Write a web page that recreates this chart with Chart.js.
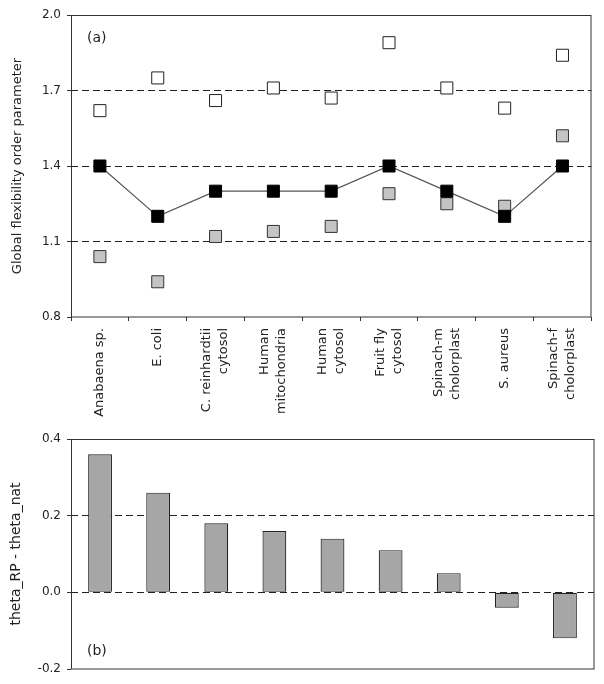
<!DOCTYPE html>
<html lang="en">
<head>
<meta charset="utf-8">
<title>Global flexibility order parameter</title>
<script src="https://cdn.jsdelivr.net/npm/chart.js@4"></script>
<style>
    body { margin: 0; background: #fff; }
    canvas { display: block; }
</style>
</head>
<body>

<canvas id="orderChart" width="604" height="430"></canvas>
<canvas id="diffChart" width="604" height="254"></canvas>

<script>
    // categories, one array of text lines per organism
    const species = [
        ['Anabaena sp.'],
        ['E. coli'],
        ['C. reinhardtii', 'cytosol'],
        ['Human', 'mitochondria'],
        ['Human', 'cytosol'],
        ['Fruit fly', 'cytosol'],
        ['Spinach-m', 'cholorplast'],
        ['S. aureus'],
        ['Spinach-f', 'cholorplast']
    ];

    // panel (a)
    const thetaNat   = [1.40, 1.20, 1.30, 1.30, 1.30, 1.40, 1.30, 1.20, 1.40];
    const thetaUpper = [1.62, 1.75, 1.66, 1.71, 1.67, 1.89, 1.71, 1.63, 1.84];
    const thetaLower = [1.04, 0.94, 1.12, 1.14, 1.16, 1.29, 1.25, 1.24, 1.52];
    const orderTicks = [0.8, 1.1, 1.4, 1.7, 2.0];

    // panel (b)
    const thetaDiff = [0.36, 0.26, 0.18, 0.16, 0.14, 0.11, 0.05, -0.04, -0.12];
    const diffTicks = [-0.2, 0.0, 0.2, 0.4];

    const FONT = 'DejaVu Sans, Verdana, sans-serif';
    const INK = '#222';

    // box round the plot area plus the (a)/(b) tag
    const framePlugin = {
        id: 'frame',
        beforeDatasetsDraw(chart) {
            const { ctx, chartArea: a } = chart;
            ctx.save();
            ctx.strokeStyle = '#333';
            ctx.lineWidth = 1;
            const l = Math.round(a.left) + 0.5, t = Math.round(a.top) + 0.5;
            ctx.strokeRect(l, t, Math.round(a.right) - l, Math.round(a.bottom) - t);
            ctx.restore();
        },
        afterDraw(chart, args, opts) {
            const { ctx, chartArea: a } = chart;
            ctx.save();
            ctx.fillStyle = INK;
            ctx.font = '14px ' + FONT;
            ctx.textBaseline = 'middle';
            ctx.fillText(opts.text, a.left + 16, opts.fromTop ? a.top + 23 : a.bottom - 18);
            ctx.restore();
        }
    };

    function yAxis(ticks, title, titleSize, titlePad) {
        const last = ticks.length - 1;
        return {
            min: ticks[0],
            max: ticks[last],
            afterBuildTicks: s => { s.ticks = ticks.map(v => ({ value: v })); },
            afterFit: s => {
                s.width = 71;
                // let layout.padding alone decide the top/bottom gap
                s.paddingTop = 0;
                s.paddingBottom = 0;
            },
            border: { display: false, dash: [7, 4] },
            grid: {
                color: c => (c.index === 0 || c.index === last) ? 'rgba(0,0,0,0)' : INK,
                tickColor: '#333',
                tickLength: 4,
                lineWidth: 1
            },
            ticks: {
                padding: 6,
                color: INK,
                font: { family: FONT, size: 12 },
                callback: v => v.toFixed(1)
            },
            title: {
                display: true,
                text: title,
                color: INK,
                font: { family: FONT, size: titleSize },
                padding: { top: titlePad, bottom: 0 }
            }
        };
    }

    new Chart(document.getElementById('orderChart'), {
        type: 'line',
        data: {
            labels: species,
            datasets: [
                {
                    data: thetaNat,
                    borderColor: '#555',
                    borderWidth: 1.2,
                    pointStyle: 'rect',
                    pointRadius: 8.5,
                    pointBackgroundColor: '#000',
                    pointBorderColor: '#000',
                    pointBorderWidth: 1
                },
                {
                    data: thetaUpper,
                    showLine: false,
                    pointStyle: 'rect',
                    pointRadius: 8.5,
                    pointBackgroundColor: '#fff',
                    pointBorderColor: '#222',
                    pointBorderWidth: 1
                },
                {
                    data: thetaLower,
                    showLine: false,
                    pointStyle: 'rect',
                    pointRadius: 8.5,
                    pointBackgroundColor: '#c4c4c4',
                    pointBorderColor: '#333',
                    pointBorderWidth: 1
                }
            ]
        },
        options: {
            responsive: false,
            animation: false,
            layout: { padding: { top: 15, right: 9, left: 0, bottom: 0 } },
            plugins: {
                legend: { display: false },
                tooltip: { enabled: false },
                frame: { text: '(a)', fromTop: true }
            },
            scales: {
                x: {
                    offset: true,
                    afterFit: s => { s.height = 113; },
                    border: { display: false },
                    grid: { offset: true, drawOnChartArea: false, tickLength: 4, color: '#333' },
                    ticks: {
                        autoSkip: false,
                        minRotation: 90,
                        maxRotation: 90,
                        padding: 7,
                        labelOffset: -8.5,
                        color: INK,
                        // two-line labels sit either side of the tick, one-line labels on it
                        font: c => ({
                            family: FONT,
                            size: 13,
                            lineHeight: species[c.index].length > 1 ? '17px' : '8.5px'
                        }),
                        callback: (v, i) => species[i].length > 1 ? species[i] : ['', species[i][0]]
                    }
                },
                y: yAxis(orderTicks, 'Global flexibility order parameter', 13, 10)
            }
        },
        plugins: [framePlugin]
    });

    new Chart(document.getElementById('diffChart'), {
        type: 'bar',
        data: {
            labels: species,
            datasets: [{
                data: thetaDiff,
                backgroundColor: '#a6a6a6',
                borderColor: '#222',
                borderWidth: 1.2,
                borderSkipped: false,
                categoryPercentage: 1,
                barPercentage: 0.41
            }]
        },
        options: {
            responsive: false,
            animation: false,
            layout: { padding: { top: 9, right: 10, left: 0, bottom: 15 } },
            plugins: {
                legend: { display: false },
                tooltip: { enabled: false },
                frame: { text: '(b)', fromTop: false }
            },
            scales: {
                x: { display: false },
                y: yAxis(diffTicks, 'theta_RP - theta_nat', 14, 8)
            }
        },
        plugins: [framePlugin]
    });
</script>

</body>
</html>
